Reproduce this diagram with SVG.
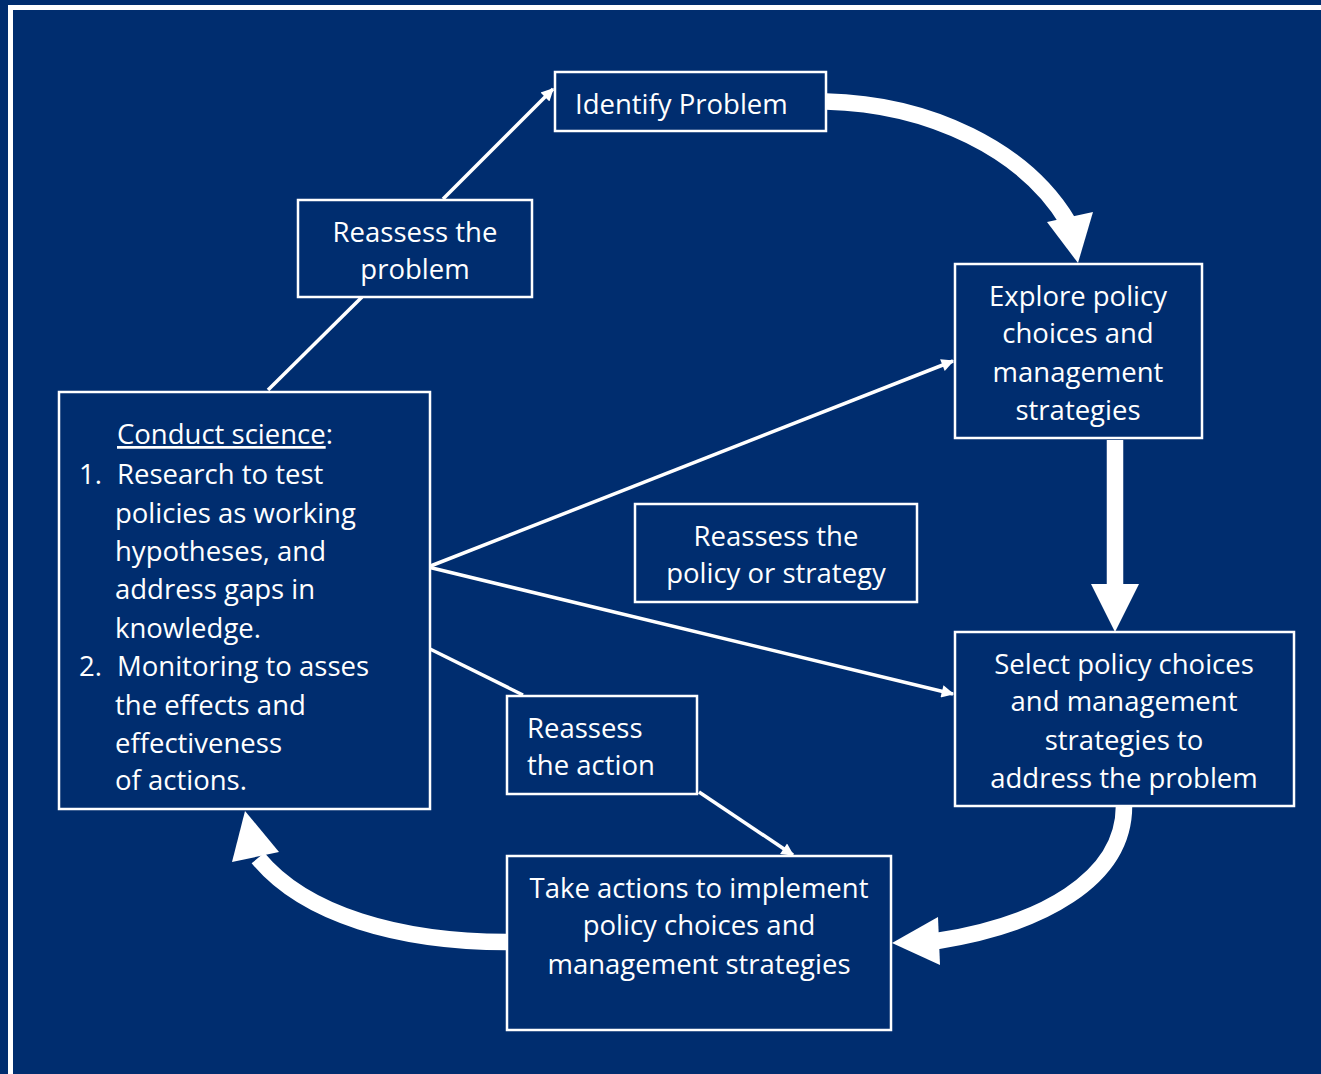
<svg xmlns="http://www.w3.org/2000/svg" width="1321" height="1074" viewBox="0 0 1321 1074">
<defs>
<style>
.bg{fill:#002D6F}
.box{fill:#002D6F;stroke:#FFFFFF;stroke-width:2.5}
.t{font-family:"Open Sans","Noto Sans",sans-serif;font-size:27.5px;fill:#FFFFFF}
.c{text-anchor:middle}
.thin{stroke:#FFFFFF;stroke-width:3.5;fill:none}
.thick{stroke:#FFFFFF;stroke-width:16.5;fill:none}
.head{fill:#FFFFFF}
</style>
<marker id="ah" viewBox="0 0 10 10" refX="9" refY="5" markerWidth="4.5" markerHeight="3.6" orient="auto" markerUnits="strokeWidth">
<path d="M0,0 L10,5 L0,10 Z" fill="#FFFFFF"/>
</marker>
</defs>
<rect class="bg" x="0" y="0" width="1321" height="1074"/>
<rect x="10.5" y="7.5" width="1330" height="1080" fill="none" stroke="#FFFFFF" stroke-width="5"/>

<g id="connectors">
<line class="thin" x1="268" y1="390" x2="362" y2="297"/>
<line class="thin" x1="443" y1="199" x2="553" y2="89" marker-end="url(#ah)"/>
<line class="thin" x1="428" y1="567" x2="953" y2="361" marker-end="url(#ah)"/>
<line class="thin" x1="428" y1="567" x2="953" y2="694" marker-end="url(#ah)"/>
<line class="thin" x1="428" y1="648" x2="523" y2="695"/>
<line class="thin" x1="699" y1="792" x2="793" y2="855" marker-end="url(#ah)"/>
<path class="thick" d="M826,101.5 C930,104 1025,150 1068,222"/>
<polygon class="head" points="1047,222 1093,212 1078,263"/>
<line class="thick" x1="1115" y1="440" x2="1115" y2="586"/>
<polygon class="head" points="1091,584 1139,584 1115,632"/>
<path class="thick" d="M1124,806 C1124,880 1040,925 937,941"/>
<polygon class="head" points="938,917 940,965 892,943"/>
<path class="thick" d="M507,942 C400,942 305,915 258,858"/>
<polygon class="head" points="232,862 279,852 245,811"/>
</g>

<g id="identify">
<rect class="box" x="555" y="72" width="271" height="59"/>
<text class="t" x="575" y="114">Identify Problem</text>
</g>

<g id="reassess-problem">
<rect class="box" x="298" y="200" width="234" height="97"/>
<text class="t c" x="415" y="242">Reassess the</text>
<text class="t c" x="415" y="279">problem</text>
</g>

<g id="explore">
<rect class="box" x="955" y="264" width="247" height="174"/>
<text class="t c" x="1078" y="306">Explore policy</text>
<text class="t c" x="1078" y="343">choices and</text>
<text class="t c" x="1078" y="382">management</text>
<text class="t c" x="1078" y="420">strategies</text>
</g>

<g id="reassess-policy">
<rect class="box" x="635" y="504" width="282" height="98"/>
<text class="t c" x="776" y="546">Reassess the</text>
<text class="t c" x="776" y="583">policy or strategy</text>
</g>

<g id="select">
<rect class="box" x="955" y="632" width="339" height="174"/>
<text class="t c" x="1124" y="674">Select policy choices</text>
<text class="t c" x="1124" y="711">and management</text>
<text class="t c" x="1124" y="750">strategies to</text>
<text class="t c" x="1124" y="788">address the problem</text>
</g>

<g id="reassess-action">
<rect class="box" x="507" y="696" width="190" height="98"/>
<text class="t" x="527" y="738">Reassess</text>
<text class="t" x="527" y="775">the action</text>
</g>

<g id="take-actions">
<rect class="box" x="507" y="856" width="384" height="174"/>
<text class="t c" x="699" y="898">Take actions to implement</text>
<text class="t c" x="699" y="935">policy choices and</text>
<text class="t c" x="699" y="974">management strategies</text>
</g>

<g id="conduct-science">
<rect class="box" x="59" y="392" width="371" height="417"/>
<text class="t" x="117" y="444"><tspan text-decoration="underline">Conduct science</tspan>:</text>
<text class="t" x="79" y="484">1.</text>
<text class="t" x="117" y="484">Research to test</text>
<text class="t" x="115" y="523">policies as working</text>
<text class="t" x="115" y="561">hypotheses, and</text>
<text class="t" x="115" y="599">address gaps in</text>
<text class="t" x="115" y="638">knowledge.</text>
<text class="t" x="79" y="676">2.</text>
<text class="t" x="117" y="676">Monitoring to asses</text>
<text class="t" x="115" y="715">the effects and</text>
<text class="t" x="115" y="753">effectiveness</text>
<text class="t" x="115" y="790">of actions.</text>
</g>
</svg>
